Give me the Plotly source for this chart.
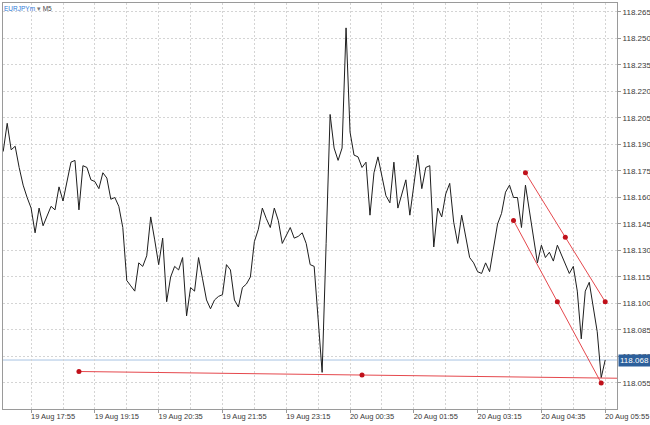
import plotly.graph_objects as go
import pandas as pd

symbol = "EURJPYm"
timeframe = "M5"
start_time = "2019-08-19 17:20"
bar_minutes = 5

close_prices = [
    118.186, 118.202, 118.187, 118.189, 118.177, 118.167, 118.160, 118.154, 118.140, 118.154,
    118.144, 118.149, 118.155, 118.153, 118.166, 118.158, 118.170, 118.180, 118.181, 118.153,
    118.178, 118.177, 118.170, 118.169, 118.165, 118.174, 118.171, 118.159, 118.160, 118.155,
    118.143, 118.113, 118.110, 118.107, 118.123, 118.121, 118.127, 118.149, 118.136, 118.122,
    118.137, 118.101, 118.115, 118.121, 118.119, 118.126, 118.093, 118.109, 118.107, 118.126,
    118.114, 118.102, 118.097, 118.102, 118.104, 118.105, 118.122, 118.119, 118.102, 118.098,
    118.109, 118.111, 118.115, 118.135, 118.142, 118.154, 118.148, 118.143, 118.154, 118.147,
    118.134, 118.139, 118.143, 118.137, 118.138, 118.140, 118.134, 118.122, 118.121, 118.091,
    118.061, 118.134, 118.207, 118.188, 118.181, 118.188, 118.256, 118.197, 118.184, 118.183,
    118.177, 118.180, 118.150, 118.174, 118.183, 118.172, 118.161, 118.157, 118.180, 118.154,
    118.162, 118.170, 118.150, 118.168, 118.184, 118.165, 118.177, 118.178, 118.132, 118.154,
    118.149, 118.162, 118.168, 118.146, 118.134, 118.150, 118.138, 118.126, 118.123, 118.118,
    118.117, 118.123, 118.118, 118.132, 118.145, 118.151, 118.163, 118.167, 118.160, 118.160,
    118.143, 118.167, 118.152, 118.138, 118.123, 118.133, 118.126, 118.129, 118.124, 118.133,
    118.128, 118.123, 118.117, 118.121, 118.107, 118.080, 118.107, 118.112, 118.098, 118.084,
    118.058, 118.068,
]

bid_price = 118.068

y_tick_values = [118.055, 118.070, 118.085, 118.100, 118.115, 118.130, 118.145, 118.160,
                 118.175, 118.190, 118.205, 118.220, 118.235, 118.250, 118.265]

x_tick_times = ["2019-08-19 17:55", "2019-08-19 19:15", "2019-08-19 20:35", "2019-08-19 21:55",
                "2019-08-19 23:15", "2019-08-20 00:35", "2019-08-20 01:55", "2019-08-20 03:15",
                "2019-08-20 04:35", "2019-08-20 05:55"]
x_tick_labels = ["19 Aug 17:55", "19 Aug 19:15", "19 Aug 20:35", "19 Aug 21:55", "19 Aug 23:15",
                 "20 Aug 00:35", "20 Aug 01:55", "20 Aug 03:15", "20 Aug 04:35", "20 Aug 05:55"]

# trend line objects (two anchor points each)
support_times = ["2019-08-19 18:55", "2019-08-20 06:45"]
support_prices = [118.0615, 118.0575]
channel_upper_times = ["2019-08-20 04:15", "2019-08-20 05:55"]
channel_upper_prices = [118.174, 118.101]
channel_lower_times = ["2019-08-20 04:00", "2019-08-20 05:50"]
channel_lower_prices = [118.147, 118.055]

x_range = ["2019-08-19 17:19:45", "2019-08-20 06:09:48"]
y_range = [118.04028, 118.27009]

times = pd.date_range(start_time, periods=len(close_prices), freq=f"{bar_minutes}min")

def anchors_with_mid(ts, ps):
    t = pd.to_datetime(ts)
    mid_t = t[0] + (t[1] - t[0]) / 2
    return [t[0], mid_t, t[1]], [ps[0], (ps[0] + ps[1]) / 2, ps[1]]

fig = go.Figure()

fig.add_trace(go.Scatter(x=times, y=close_prices, mode="lines",
                         line=dict(color="#1e1e1e", width=1), showlegend=False, hoverinfo="skip"))

line_red = "#e5484d"
dot_red = "#c0101a"
for ts, ps in [(support_times, support_prices),
               (channel_upper_times, channel_upper_prices),
               (channel_lower_times, channel_lower_prices)]:
    tx, py = anchors_with_mid(ts, ps)
    fig.add_trace(go.Scatter(x=pd.to_datetime(ts), y=ps, mode="lines",
                             line=dict(color=line_red, width=1), showlegend=False, hoverinfo="skip"))
    fig.add_trace(go.Scatter(x=tx, y=py, mode="markers",
                             marker=dict(color=dot_red, size=5), showlegend=False, hoverinfo="skip"))

fig.add_shape(type="line", xref="paper", x0=0, x1=1, yref="y", y0=bid_price, y1=bid_price,
              line=dict(color="#a9c3e3", width=1), layer="below")

x_ticks = pd.to_datetime(x_tick_times)
minor_ticks = [t + pd.Timedelta(minutes=40) for t in x_ticks]

font_family = "Liberation Sans, Arial, sans-serif"
grid_col = "#d4d4d4"
frame_col = "#9a9a9a"

fig.update_layout(
    width=650, height=425,
    margin=dict(l=3, r=33, t=3, b=16, autoexpand=False),
    paper_bgcolor="white", plot_bgcolor="white",
    font=dict(family=font_family, size=8, color="#3a3a3a"),
    xaxis=dict(
        type="date", range=x_range,
        tickmode="array", tickvals=x_ticks, ticktext=x_tick_labels,
        ticklabelshift=22, ticklabelstandoff=-3, ticklabeloverflow="allow",
        ticks="outside", ticklen=3, tickcolor=frame_col,
        showgrid=True, gridcolor=grid_col, griddash="2px,2px", gridwidth=1,
        minor=dict(tickmode="array", tickvals=minor_ticks, showgrid=True,
                   gridcolor=grid_col, griddash="2px,2px", ticks=""),
        showline=True, linecolor=frame_col, linewidth=1, mirror=True,
        zeroline=False, fixedrange=True, automargin=False,
        tickfont=dict(size=7.5, color="#3a3a3a"),
    ),
    yaxis=dict(
        side="right", range=y_range,
        tickmode="array", tickvals=y_tick_values,
        ticktext=[f"{v:.3f}" for v in y_tick_values],
        ticks="outside", ticklen=3, tickcolor=frame_col,
        showgrid=True, gridcolor=grid_col, griddash="2px,2px", gridwidth=1,
        showline=True, linecolor=frame_col, linewidth=1, mirror=True,
        zeroline=False, fixedrange=True, automargin=False,
        tickfont=dict(size=8, color="#3a3a3a"),
    ),
    annotations=[
        dict(xref="paper", yref="paper", x=0, y=1, xanchor="left", yanchor="top",
             xshift=-1, yshift=0, showarrow=False,
             text=f'<span style="color:#2f7bd8">{symbol}</span>'
                  f'<span style="color:#777"> \u25be </span>'
                  f'<span style="color:#444">{timeframe}</span>',
             font=dict(size=6.5)),
        dict(xref="paper", yref="y", x=1, y=bid_price, xanchor="left", yanchor="middle",
             xshift=1, showarrow=False, text=f"{bid_price:.3f}",
             bgcolor="#2c5f9b", borderpad=1, font=dict(size=8, color="white")),
    ],
)

fig.write_html("out.html", config={"displayModeBar": False},
               post_script="document.body.style.margin='0';document.body.style.overflow='hidden';")
